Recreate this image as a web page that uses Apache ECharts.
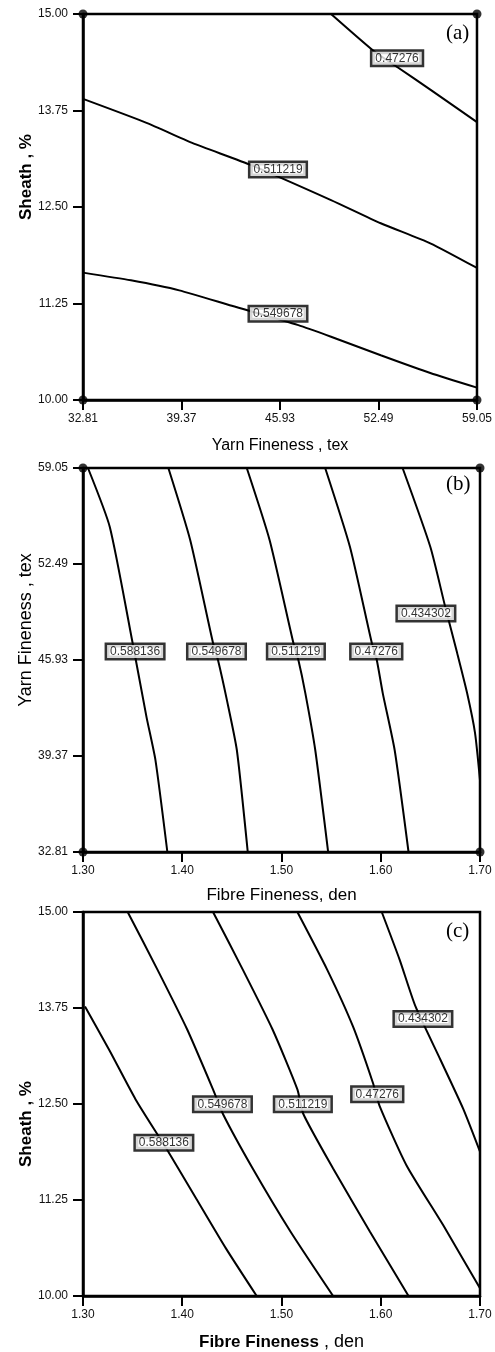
<!DOCTYPE html>
<html><head><meta charset="utf-8">
<script src="https://cdn.jsdelivr.net/npm/echarts@6/dist/echarts.min.js"></script>
<style>html,body{margin:0;padding:0;background:#fff}#c{width:495px;height:1352px}</style>
</head><body><div id="c"></div>
<script>
// ---------- Panel (a): Sheath vs Yarn Fineness ----------
const A_X_TICKS = [32.81, 39.37, 45.93, 52.49, 59.05];
const A_Y_TICKS = [10.00, 11.25, 12.50, 13.75, 15.00];
const A_C_047276 = [[49.33,15.00],[52.24,14.51],[53.76,14.31],[55.94,14.02],[59.05,13.60]];
const A_C_0511219 = [[32.81,13.90],[37.04,13.59],[40.08,13.33],[44.05,13.04],[49.33,12.59],[52.64,12.29],[55.94,12.03],[59.05,11.71]];
const A_C_0549678 = [[32.81,11.65],[36.00,11.55],[39.22,11.42],[42.72,11.22],[47.15,10.97],[49.33,10.82],[52.64,10.58],[55.94,10.35],[59.05,10.16]];
const A_LABELS = [[53.76,14.42,'0.47276'],[45.83,12.98,'0.511219'],[45.83,11.11,'0.549678']];

// ---------- Panel (b): Yarn Fineness vs Fibre Fineness ----------
const B_X_TICKS = [1.30, 1.40, 1.50, 1.60, 1.70];
const B_Y_TICKS = [32.81, 39.37, 45.93, 52.49, 59.05];
const B_C_0588136 = [[1.305,59.05],[1.327,55.02],[1.350,47.09],[1.364,42.03],[1.373,39.09],[1.385,32.81]];
const B_C_0549678 = [[1.386,59.05],[1.408,54.13],[1.431,47.09],[1.436,45.93],[1.445,43.19],[1.455,39.78],[1.466,32.81]];
const B_C_0511219 = [[1.465,59.05],[1.488,54.13],[1.512,47.09],[1.517,45.93],[1.524,43.67],[1.534,39.78],[1.547,32.81]];
const B_C_047276 = [[1.544,59.05],[1.569,53.65],[1.591,47.09],[1.596,45.93],[1.602,43.67],[1.614,39.78],[1.628,32.81]];
const B_C_0434302 = [[1.622,59.05],[1.650,53.65],[1.665,49.55],[1.677,46.40],[1.687,43.67],[1.695,40.94],[1.700,37.72]];
const B_LABELS = [[1.353,46.47,'0.588136'],[1.435,46.47,'0.549678'],[1.515,46.47,'0.511219'],[1.596,46.47,'0.47276'],[1.646,49.07,'0.434302']];

// ---------- Panel (c): Sheath vs Fibre Fineness ----------
const C_X_TICKS = [1.30, 1.40, 1.50, 1.60, 1.70];
const C_Y_TICKS = [10.00, 11.25, 12.50, 13.75, 15.00];
const C_C_0588136 = [[1.302,13.77],[1.327,13.19],[1.353,12.56],[1.384,11.92],[1.414,11.27],[1.444,10.62],[1.475,10.00]];
const C_C_0549678 = [[1.345,15.00],[1.375,14.25],[1.405,13.47],[1.431,12.69],[1.441,12.37],[1.471,11.66],[1.509,10.84],[1.552,10.00]];
const C_C_0511219 = [[1.431,15.00],[1.461,14.25],[1.491,13.47],[1.516,12.69],[1.522,12.37],[1.552,11.66],[1.589,10.84],[1.628,10.00]];
const C_C_047276 = [[1.516,15.00],[1.546,14.25],[1.572,13.51],[1.592,12.78],[1.599,12.47],[1.626,11.70],[1.663,10.92],[1.700,10.10]];
const C_C_0434302 = [[1.601,15.00],[1.619,14.38],[1.635,13.77],[1.660,13.08],[1.683,12.44],[1.700,11.88]];
const C_LABELS = [[1.382,11.99,'0.588136'],[1.441,12.49,'0.549678'],[1.522,12.49,'0.511219'],[1.597,12.62,'0.47276'],[1.643,13.60,'0.434302']];

const SANS = 'Arial, "Liberation Sans", Helvetica, sans-serif';
const SERIF = '"Liberation Serif", "Times New Roman", serif';
const grids = [
  {left:83, top:14, width:397, height:386},
  {left:83, top:468, width:397, height:384},
  {left:83, top:912, width:397, height:386}
];
const RICH = {
  r:{fontSize:16, fontFamily:SANS, color:'#000'},
  r17:{fontSize:17, fontFamily:SANS, color:'#000'},
  r18:{fontSize:18, fontFamily:SANS, color:'#000'},
  b:{fontSize:17, fontFamily:SANS, fontWeight:'bold', color:'#000'},
  n:{fontSize:18, fontFamily:SANS, color:'#000'}
};
function xAxis(gi, ticks, name, gap) {
  return {type:'value', gridIndex:gi, min:ticks[0], max:ticks[ticks.length-1],
    name:name, nameLocation:'middle', nameGap:gap,
    nameTextStyle:{color:'#000', fontFamily:SANS, fontSize:16, rich:RICH},
    axisLine:{show:true, lineStyle:{color:'#000', width:2.5}},
    axisTick:{show:true, length:10, lineStyle:{color:'#000', width:2}, customValues:ticks},
    axisLabel:{color:'#111', fontFamily:SANS, fontSize:12, margin:13, customValues:ticks, formatter:v=>v.toFixed(2)},
    splitLine:{show:false}};
}
function yAxis(gi, ticks) {
  return {type:'value', gridIndex:gi, min:ticks[0], max:ticks[ticks.length-1],
    axisLine:{show:true, lineStyle:{color:'#000', width:2.5}},
    axisTick:{show:true, length:10, lineStyle:{color:'#000', width:2}, customValues:ticks},
    axisLabel:{color:'#111', fontFamily:SANS, fontSize:12, margin:15, customValues:ticks, formatter:v=>v.toFixed(2)},
    splitLine:{show:false}};
}
function contour(gi, data) {
  return {type:'line', xAxisIndex:gi, yAxisIndex:gi, data:data, smooth:0.2, symbol:'none',
    lineStyle:{color:'#000', width:2}, z:2, silent:true};
}
function labels(gi, data) {
  return {type:'scatter', xAxisIndex:gi, yAxisIndex:gi, data:data, symbol:'rect', symbolSize:1,
    itemStyle:{color:'rgba(0,0,0,0)'}, z:5, silent:true,
    label:{show:true, position:[0,0], align:'center', verticalAlign:'middle', formatter:p=>p.data[2],
      color:'#000', fontFamily:SANS, fontSize:12, textBorderWidth:0,
      backgroundColor:'#fff', borderColor:'#000', borderWidth:2.5, padding:[1,3,0,3], lineHeight:12}};
}
function corners(gi, xt, yt) {
  const x0=xt[0], x1=xt[xt.length-1], y0=yt[0], y1=yt[yt.length-1];
  return {type:'scatter', xAxisIndex:gi, yAxisIndex:gi, data:[[x0,y0],[x0,y1],[x1,y0],[x1,y1]],
    symbol:'circle', symbolSize:9, itemStyle:{color:'#000'}, clip:false, z:6, silent:true};
}
function yName(x, y, rich) {
  return {type:'text', x:x, y:y, rotation:Math.PI/2,
    style:{text:rich, align:'center', verticalAlign:'middle', rich:RICH, fill:'#000'}};
}

const option = {
  animation:false,
  backgroundColor:'#fff',
  grid: grids.map(g=>Object.assign({show:true, borderColor:'#000', borderWidth:2.5, containLabel:false}, g)),
  xAxis:[xAxis(0,A_X_TICKS,'{r|Yarn Fineness , tex}',38), xAxis(1,B_X_TICKS,'{r17|Fibre Fineness, den}',35), xAxis(2,C_X_TICKS,'{b|Fibre Fineness}{n| , den}',37)],
  yAxis:[yAxis(0,A_Y_TICKS), yAxis(1,B_Y_TICKS), yAxis(2,C_Y_TICKS)],
  series:[
    contour(0,A_C_047276), contour(0,A_C_0511219), contour(0,A_C_0549678), labels(0,A_LABELS), corners(0,A_X_TICKS,A_Y_TICKS),
    contour(1,B_C_0588136), contour(1,B_C_0549678), contour(1,B_C_0511219), contour(1,B_C_047276), contour(1,B_C_0434302), labels(1,B_LABELS), corners(1,B_X_TICKS,B_Y_TICKS),
    contour(2,C_C_0588136), contour(2,C_C_0549678), contour(2,C_C_0511219), contour(2,C_C_047276), contour(2,C_C_0434302), labels(2,C_LABELS)
  ],
  graphic:[
    yName(26, 177, '{b|Sheath , %}'),
    yName(26, 630, '{r18|Yarn Fineness , tex}'),
    yName(26, 1124, '{b|Sheath , %}'),
    {type:'text', left:446, top:23, style:{text:'(a)', font:'21px '+SERIF, fill:'#000'}},
    {type:'text', left:446, top:474, style:{text:'(b)', font:'21px '+SERIF, fill:'#000'}},
    {type:'text', left:446, top:921, style:{text:'(c)', font:'21px '+SERIF, fill:'#000'}}
  ]
};
echarts.init(document.getElementById('c'), null, {renderer:'canvas'}).setOption(option);
</script></body></html>
